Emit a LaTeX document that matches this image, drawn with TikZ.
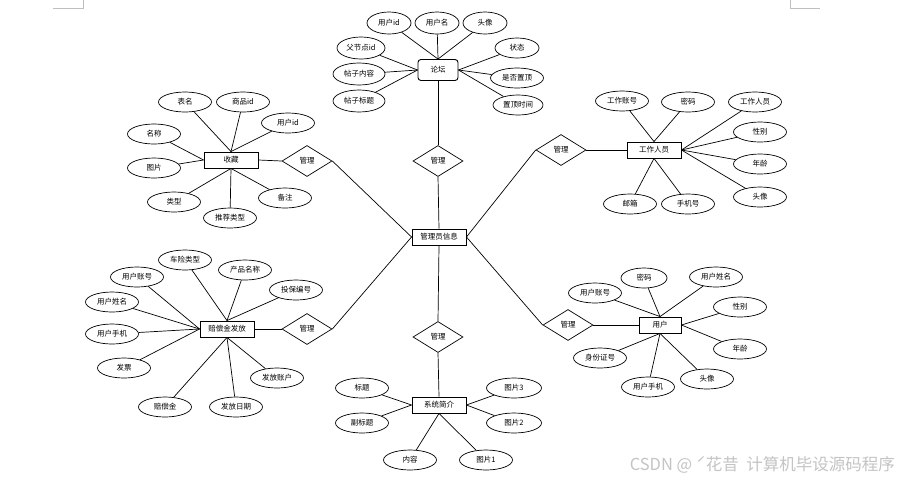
\documentclass[tikz,border=0pt]{standalone}
\usepackage{fontspec}
\newfontfamily\cjk{Noto Sans CJK SC}
\usepackage{tikz}
\usetikzlibrary{positioning, shapes.geometric, calc}
\definecolor{markgray}{HTML}{BFBFBF}
\definecolor{wmgray}{HTML}{C4C4C4}

\tikzset{
  erfont/.style={font=\cjk\fontsize{7.5}{8}\selectfont},
  entity/.style={erfont, draw, line width=0.9pt, minimum width=54pt, minimum height=16pt, inner sep=1pt},
  attr/.style={erfont, draw, ellipse, line width=0.7pt, minimum width=53pt, minimum height=20pt, inner sep=0pt},
  smallattr/.style={attr, minimum width=44pt, minimum height=22pt},
  rel/.style={erfont, draw, diamond, line width=0.7pt, minimum width=50pt, minimum height=31pt, inner sep=0pt},
  link/.style={line width=0.7pt}
}

\begin{document}
\begin{tikzpicture}[x=1pt, y=-1pt]
  \useasboundingbox (0,0) rectangle (899,480);
  \fill[white] (0,0) rectangle (899,480);

  % page corner marks
  \draw[markgray, line width=0.6pt] (53,8) -- (83,8) -- (83,0);
  \draw[markgray, line width=0.6pt] (790,0) -- (790,8) -- (820,8);

  % centre
  \node[entity] (admin) at (439,237) {管理员信息};
  \node[rel] (rtop) at (438,161) {管理};
  \node[rel] (rcol) at (307,161) {管理};
  \node[rel] (rstaff) at (561,150) {管理};
  \node[rel] (rcomp) at (307,329) {管理};
  \node[rel] (ruser) at (568,325) {管理};
  \node[rel] (rsys) at (438,337) {管理};

  % forum
  \node[entity, rounded corners=3pt, minimum width=40pt, minimum height=21pt] (forum) at (438,70) {论坛};
  \node[smallattr] (fuid) at (389,23) {用户id};
  \node[smallattr] (fname) at (437,23) {用户名};
  \node[smallattr] (fhead) at (485,23) {头像};
  \node[smallattr, minimum width=48pt] (fparent) at (361,48) {父节点id};
  \node[smallattr, minimum width=52pt] (ftext) at (359,74) {帖子内容};
  \node[smallattr, minimum width=52pt] (ftitle) at (359,101) {帖子标题};
  \node[smallattr, minimum height=20pt] (fstate) at (517,48) {状态};
  \node[attr] (ftop) at (517,78) {是否置顶};
  \node[attr, minimum width=50pt] (ftime) at (518,105) {置顶时间};

  % collection
  \node[entity] (collect) at (231,160) {收藏};
  \node[attr] (ctable) at (185,102) {表名};
  \node[attr] (cgood) at (243,102) {商品id};
  \node[attr] (cuid) at (288,123) {用户id};
  \node[attr] (cname) at (154,134) {名称};
  \node[attr] (cpic) at (154,168) {图片};
  \node[attr] (ctype) at (174,202) {类型};
  \node[attr] (crec) at (230,218) {推荐类型};
  \node[attr] (cnote) at (285,198) {备注};

  % staff
  \node[entity] (staff) at (654,150) {工作人员};
  \node[attr] (sacc) at (622,101) {工作账号};
  \node[attr] (spwd) at (688,102) {密码};
  \node[attr] (sname) at (755,102) {工作人员};
  \node[attr] (ssex) at (760,132) {性别};
  \node[attr] (sage) at (760,164) {年龄};
  \node[attr] (shead) at (760,197) {头像};
  \node[attr] (smail) at (630,204) {邮箱};
  \node[attr] (sphone) at (688,204) {手机号};

  % compensation
  \node[entity] (comp) at (227,329) {赔偿金发放};
  \node[attr] (ptype) at (185,260) {车险类型};
  \node[attr] (pprod) at (245,270) {产品名称};
  \node[attr] (pno) at (296,290) {投保编号};
  \node[attr] (pacc) at (137,277) {用户账号};
  \node[attr] (pname) at (112,302) {用户姓名};
  \node[attr] (pphone) at (112,334) {用户手机};
  \node[attr] (pbill) at (124,368) {发票};
  \node[attr] (pmoney) at (165,407) {赔偿金};
  \node[attr] (pdate) at (236,407) {发放日期};
  \node[attr] (pbank) at (277,378) {发放账户};

  % user
  \node[entity, minimum width=42pt] (user) at (660,325) {用户};
  \node[attr] (uacc) at (595,293) {用户账号};
  \node[attr, minimum width=46pt] (upwd) at (644,278) {密码};
  \node[attr] (uname) at (716,277) {用户姓名};
  \node[attr] (usex) at (740,307) {性别};
  \node[attr] (uage) at (740,349) {年龄};
  \node[attr] (uid) at (600,358) {身份证号};
  \node[attr] (uphone) at (648,387) {用户手机};
  \node[attr] (uhead) at (707,379) {头像};

  % system intro
  \node[entity] (sys) at (439,405) {系统简介};
  \node[attr] (ytitle) at (362,388) {标题};
  \node[attr] (ysub) at (362,423) {副标题};
  \node[attr, minimum width=55pt] (ypic3) at (514,388) {图片3};
  \node[attr, minimum width=55pt] (ypic2) at (514,423) {图片2};
  \node[attr] (ytext) at (410,460) {内容};
  \node[attr] (ypic1) at (486,460) {图片1};

  % attribute links
  \foreach \a in {fuid, fname, fhead} \draw[link] (forum.north) -- (\a);
  \foreach \a in {fparent, ftext, ftitle} \draw[link] (forum.west) -- (\a);
  \foreach \a in {fstate, ftop, ftime} \draw[link] (forum.east) -- (\a);
  \foreach \a in {ctable, cgood, cuid} \draw[link] (collect.north) -- (\a);
  \foreach \a in {cname, cpic} \draw[link] (collect.west) -- (\a);
  \foreach \a in {ctype, crec, cnote} \draw[link] (collect.south) -- (\a);
  \foreach \a in {sacc, spwd} \draw[link] (staff.north) -- (\a);
  \foreach \a in {sname, ssex, sage, shead} \draw[link] (staff.east) -- (\a);
  \foreach \a in {smail, sphone} \draw[link] (staff.south) -- (\a);
  \foreach \a in {ptype, pprod, pno} \draw[link] (comp.north) -- (\a);
  \foreach \a in {pacc, pname, pphone, pbill} \draw[link] (comp.west) -- (\a);
  \foreach \a in {pmoney, pdate, pbank} \draw[link] (comp.south) -- (\a);
  \foreach \a in {uacc, upwd, uname} \draw[link] (user.north) -- (\a);
  \foreach \a in {usex, uage} \draw[link] (user.east) -- (\a);
  \foreach \a in {uid, uphone, uhead} \draw[link] (user.south) -- (\a);
  \foreach \a in {ytitle, ysub} \draw[link] (sys.west) -- (\a);
  \foreach \a in {ypic3, ypic2} \draw[link] (sys.east) -- (\a);
  \foreach \a in {ytext, ypic1} \draw[link] (sys.south) -- (\a);

  % relationship links
  \draw[link] (forum.south) -- (rtop.north);
  \draw[link] (rtop.south) -- (admin.north);
  \draw[link] (collect.east) -- (rcol.west);
  \draw[link] (rcol.east) -- (admin.west);
  \draw[link] (comp.east) -- (rcomp.west);
  \draw[link] (rcomp.east) -- (admin.west);
  \draw[link] (staff.west) -- (rstaff.east);
  \draw[link] (rstaff.west) -- (admin.east);
  \draw[link] (user.west) -- (ruser.east);
  \draw[link] (ruser.west) -- (admin.east);
  \draw[link] (admin.south) -- (rsys.north);
  \draw[link] (rsys.south) -- (sys.north);

  % watermark
  \node[font=\cjk\fontsize{16.5}{18}\selectfont, text=wmgray, anchor=east, inner sep=0pt] (mark) at (895,465) {CSDN @ ˊ花昔\ \ 计算机毕设源码程序};
\end{tikzpicture}
\end{document}
